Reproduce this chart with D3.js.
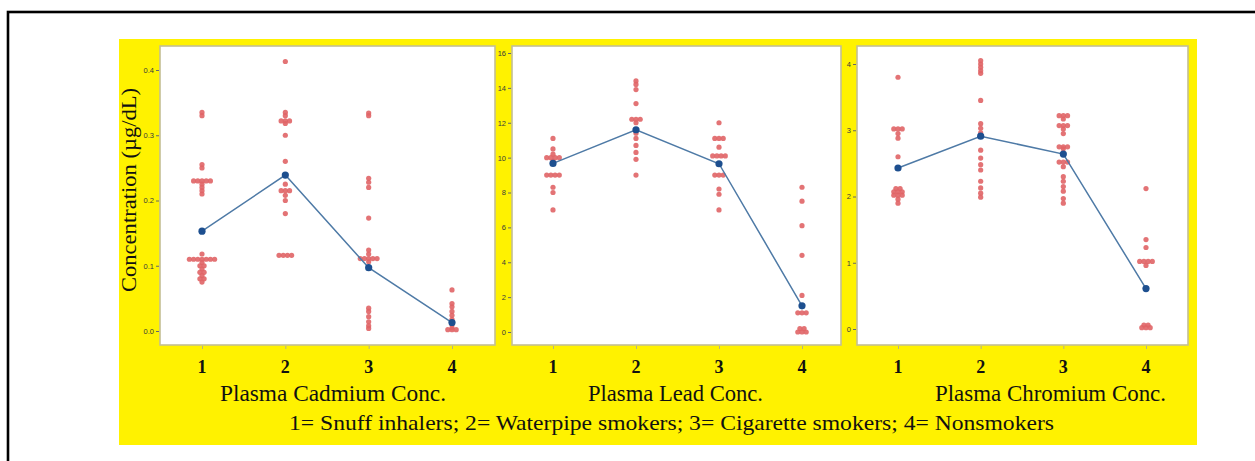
<!DOCTYPE html>
<html>
<head>
<meta charset="utf-8">
<script src="https://cdn.jsdelivr.net/npm/d3@7"></script>
<style>
  html, body { margin: 0; padding: 0; background: #ffffff; }
  svg { display: block; }
</style>
</head>
<body>
<svg id="chart" width="1255" height="461"></svg>
<script>
// Groups: 1 = Snuff inhalers, 2 = Waterpipe smokers, 3 = Cigarette smokers, 4 = Nonsmokers
const groups = [1, 2, 3, 4];
const groupLegend = "1= Snuff inhalers; 2= Waterpipe smokers; 3= Cigarette smokers; 4= Nonsmokers";

// Plasma cadmium, individual values per group (µg/dL)
const cadmium1 = [0.335, 0.33, 0.255, 0.25, 0.23, 0.23, 0.23, 0.23, 0.23, 0.225, 0.22, 0.215, 0.21,
  0.118, 0.11, 0.11, 0.11, 0.11, 0.11, 0.11, 0.11, 0.105, 0.1, 0.1, 0.095, 0.09, 0.09, 0.085, 0.08, 0.08, 0.075];
const cadmium2 = [0.413, 0.335, 0.33, 0.322, 0.322, 0.322, 0.318, 0.30, 0.26, 0.225, 0.215, 0.215, 0.215,
  0.208, 0.20, 0.18, 0.116, 0.116, 0.116, 0.116];
const cadmium3 = [0.334, 0.33, 0.234, 0.228, 0.22, 0.173, 0.124, 0.118, 0.111, 0.111, 0.111, 0.111, 0.111,
  0.106, 0.035, 0.03, 0.022, 0.014, 0.008, 0.004];
const cadmium4 = [0.063, 0.042, 0.037, 0.03, 0.024, 0.018, 0.01, 0.005, 0.002, 0.002, 0.002];
const cadmiumMeans = [0.153, 0.239, 0.097, 0.013];
const cadmiumTicks = [0, 0.1, 0.2, 0.3, 0.4];

// Plasma lead
const lead1 = [11.1, 10.5, 10.2, 10.0, 10.0, 10.0, 10.0, 9.8, 9.0, 9.0, 9.0, 9.0, 8.3, 8.0, 7.0];
const lead2 = [14.4, 14.2, 13.9, 13.1, 12.2, 12.2, 12.2, 12.0, 11.4, 11.1, 10.7, 10.3, 9.9, 9.0];
const lead3 = [12.0, 11.1, 11.1, 11.1, 10.6, 10.1, 10.1, 10.1, 10.1, 9.0, 9.0, 9.0, 8.2, 7.9, 7.0];
const lead4 = [8.3, 7.5, 6.1, 4.4, 2.1, 1.1, 1.1, 1.1, 0.2, 0.2, 0.0, 0.0, 0.0];
const leadMeans = [9.67, 11.6, 9.65, 1.5];
const leadTicks = [0, 2, 4, 6, 8, 10, 12, 14, 16];

// Plasma chromium
const chromium1 = [3.8, 3.02, 3.02, 3.02, 2.95, 2.88, 2.6, 2.12, 2.12, 2.07, 2.07, 2.07, 2.02, 2.02, 2.02, 1.96, 1.9];
const chromium2 = [4.05, 4.0, 3.95, 3.9, 3.86, 3.45, 3.1, 3.03, 2.96, 2.7, 2.58, 2.48, 2.4, 2.23, 2.13, 2.05, 1.99];
const chromium3 = [3.22, 3.22, 3.22, 3.17, 3.07, 3.07, 3.07, 3.02, 2.95, 2.75, 2.75, 2.75, 2.72, 2.52, 2.52, 2.52,
  2.45, 2.3, 2.23, 2.15, 2.08, 1.97, 1.9];
const chromium4 = [2.12, 1.35, 1.23, 1.02, 1.02, 1.02, 1.02, 0.96, 0.06, 0.06, 0.02, 0.02, 0.02];
const chromiumMeans = [2.43, 2.91, 2.64, 0.61];
const chromiumTicks = [0, 1, 2, 3, 4];

const panelTitles = ["Plasma Cadmium Conc.", "Plasma Lead Conc.", "Plasma Chromium Conc."];
const yTitle = "Concentration (µg/dL)";

// Panel layout
const panels = [
  { title: panelTitles[0], values: [cadmium1, cadmium2, cadmium3, cadmium4], means: cadmiumMeans,
    ticks: cadmiumTicks, fmt: d3.format(".1f"), frame: [160, 46, 495, 345],
    x: [202, 452], y: [331, 70], titleX: [220, 446] },
  { title: panelTitles[1], values: [lead1, lead2, lead3, lead4], means: leadMeans,
    ticks: leadTicks, fmt: d3.format("d"), frame: [512, 46, 841, 345],
    x: [553, 802], y: [332, 53], titleX: [588, 763] },
  { title: panelTitles[2], values: [chromium1, chromium2, chromium3, chromium4], means: chromiumMeans,
    ticks: chromiumTicks, fmt: d3.format("d"), frame: [857, 46, 1188, 345],
    x: [898, 1146], y: [329, 64], titleX: [935, 1166] }
];

const svg = d3.select("#chart");

// Outer black box
svg.append("rect")
  .attr("x", 8).attr("y", 12).attr("width", 1270).attr("height", 470)
  .attr("fill", "#ffffff").attr("stroke", "#000").attr("stroke-width", 2.6);

// Yellow backdrop
svg.append("rect")
  .attr("x", 119).attr("y", 39).attr("width", 1078).attr("height", 406)
  .attr("fill", "#fff200");

const dotColor = "#e06466";
const meanColor = "#1d4f8f";
const lineColor = "#4e7aa6";
const serif = "Liberation Serif, Times New Roman, serif";

panels.forEach(p => {
  const [fx0, fy0, fx1, fy1] = p.frame;
  const g = svg.append("g");

  g.append("rect")
    .attr("x", fx0).attr("y", fy0).attr("width", fx1 - fx0).attr("height", fy1 - fy0)
    .attr("fill", "#ffffff").attr("stroke", "#c4bf93").attr("stroke-width", 1.6);

  const x = d3.scaleLinear().domain([1, 4]).range(p.x);
  const y = d3.scaleLinear().domain([p.ticks[0], p.ticks[p.ticks.length - 1]]).range(p.y);

  // y axis
  const yAxis = g.append("g")
    .attr("transform", `translate(${fx0 - 1},0)`)
    .call(d3.axisLeft(y).tickValues(p.ticks).tickFormat(p.fmt).tickSize(3).tickPadding(2));
  yAxis.select(".domain").remove();
  yAxis.selectAll("line").attr("stroke", "#666");
  yAxis.selectAll("text").attr("font-family", "Liberation Sans, Arial, sans-serif")
    .attr("font-size", 7.5).attr("fill", "#3a3a3a");

  // x axis ticks and bold group numbers
  const xAxis = g.append("g")
    .attr("transform", `translate(0,${fy1 + 1})`)
    .call(d3.axisBottom(x).tickValues(groups).tickSize(3).tickFormat(""));
  xAxis.select(".domain").remove();
  xAxis.selectAll("line").attr("stroke", "#b5b08a");

  g.selectAll("text.grp").data(groups).join("text")
    .attr("class", "grp")
    .attr("x", d => x(d)).attr("y", 373)
    .attr("text-anchor", "middle")
    .attr("font-family", serif)
    .attr("font-weight", "bold").attr("font-size", 18).attr("fill", "#111")
    .text(d => d);

  // individual values: equal values placed side by side
  const dots = [];
  p.values.forEach((vals, i) => {
    const counts = d3.rollup(vals, v => v.length, v => v);
    const seen = new Map();
    vals.forEach(v => {
      const n = counts.get(v);
      const k = seen.get(v) || 0;
      seen.set(v, k + 1);
      dots.push({ group: groups[i], value: v, off: (k - (n - 1) / 2) * 4.2 });
    });
  });
  g.selectAll("circle.pt").data(dots).join("circle")
    .attr("class", "pt")
    .attr("cx", d => x(d.group) + d.off)
    .attr("cy", d => y(d.value))
    .attr("r", 2.6)
    .attr("fill", dotColor).attr("opacity", 0.9);

  // group means
  const meanData = groups.map((gr, i) => ({ group: gr, value: p.means[i] }));
  g.append("path").datum(meanData)
    .attr("d", d3.line().x(d => x(d.group)).y(d => y(d.value)))
    .attr("fill", "none").attr("stroke", lineColor).attr("stroke-width", 1.5);
  g.selectAll("circle.mean").data(meanData).join("circle")
    .attr("class", "mean")
    .attr("cx", d => x(d.group)).attr("cy", d => y(d.value))
    .attr("r", 3.6).attr("fill", meanColor);

  // panel title
  g.append("text")
    .attr("x", p.titleX[0]).attr("y", 401)
    .attr("textLength", p.titleX[1] - p.titleX[0]).attr("lengthAdjust", "spacingAndGlyphs")
    .attr("font-family", serif)
    .attr("font-size", 24).attr("fill", "#111")
    .text(p.title);
});

// Y axis title
svg.append("text")
  .attr("transform", "translate(136,190) rotate(-90)")
  .attr("text-anchor", "middle")
  .attr("textLength", 204).attr("lengthAdjust", "spacingAndGlyphs")
  .attr("font-family", serif)
  .attr("font-size", 21).attr("fill", "#111")
  .text(yTitle);

// Group legend line
svg.append("text")
  .attr("x", 289).attr("y", 430)
  .attr("textLength", 765).attr("lengthAdjust", "spacingAndGlyphs")
  .attr("font-family", serif)
  .attr("font-size", 22).attr("fill", "#111")
  .text(groupLegend);
</script>
</body>
</html>
